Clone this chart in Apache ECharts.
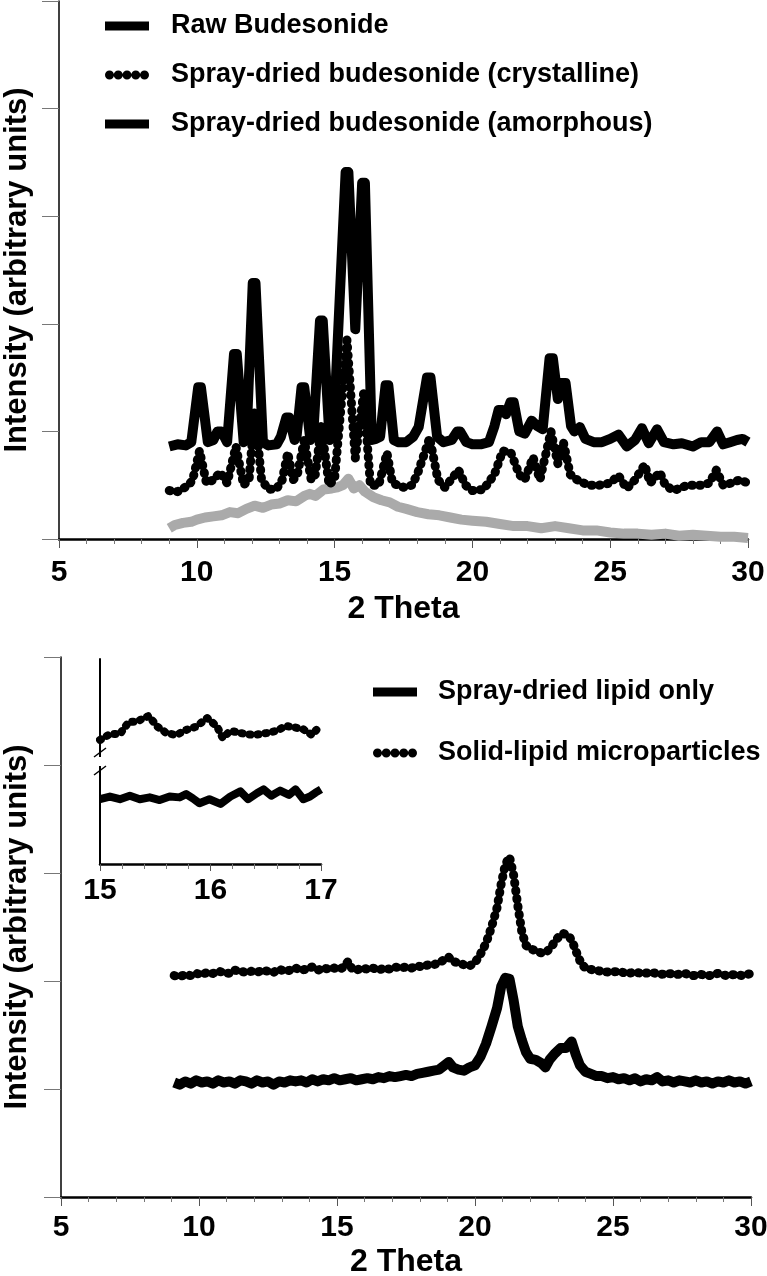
<!DOCTYPE html>
<html>
<head>
<meta charset="utf-8">
<script src="https://cdn.jsdelivr.net/npm/echarts@6/dist/echarts.min.js"></script>
<style>
  html, body { margin: 0; padding: 0; background: #fff; }
  #chart { width: 767px; height: 1276px; }
</style>
</head>
<body>
<div id="chart"></div>
<script>
// ---- top panel: budesonide powders, [2 theta, intensity] ----
var rawBudesonide = [
  [9.0,0.86],[9.3,0.88],[9.6,0.87],[9.8,0.9],[10.05,1.41],[10.15,1.41],[10.4,0.9],[10.6,0.92],[10.75,1.0],
  [10.9,1.0],[11.1,0.9],[11.35,1.72],[11.45,1.72],[11.7,0.9],[11.8,0.92],[12.03,2.38],[12.13,2.38],
  [12.4,0.9],[12.6,0.87],[12.9,0.88],[13.05,0.95],[13.25,1.13],[13.35,1.13],[13.55,0.92],[13.62,0.95],
  [13.8,1.41],[13.9,1.41],[14.12,0.92],[14.22,0.95],[14.47,2.03],[14.57,2.03],[14.82,0.92],[14.95,0.95],
  [15.4,3.41],[15.5,3.41],[15.75,1.95],[16.0,3.31],[16.1,3.31],[16.35,0.92],[16.5,0.93],[16.65,0.95],
  [16.85,1.43],[16.95,1.43],[17.15,0.92],[17.3,0.9],[17.6,0.9],[17.85,0.95],[18.05,1.04],[18.35,1.5],
  [18.48,1.5],[18.72,0.95],[18.95,0.9],[19.25,0.92],[19.45,1.0],[19.55,1.0],[19.78,0.9],[20.0,0.88],
  [20.3,0.88],[20.6,0.9],[20.8,1.05],[20.95,1.2],[21.1,1.2],[21.22,1.16],[21.38,1.27],[21.5,1.27],
  [21.7,1.0],[21.9,0.98],[22.15,1.1],[22.35,1.05],[22.55,1.02],[22.8,1.68],[22.92,1.68],[23.1,1.3],
  [23.22,1.45],[23.38,1.45],[23.58,1.05],[23.7,1.0],[23.9,1.04],[24.1,0.93],[24.4,0.9],[24.7,0.9],
  [25.0,0.93],[25.3,0.97],[25.6,0.86],[25.9,0.92],[26.15,1.03],[26.4,0.89],[26.7,1.02],[26.95,0.9],
  [27.3,0.88],[27.6,0.89],[28.0,0.86],[28.3,0.9],[28.6,0.9],[28.88,1.0],[29.1,0.88],[29.35,0.9],
  [29.6,0.92],[29.8,0.93],[30.0,0.9]
];
var crystalline = [
  [9.0,0.45],[9.3,0.44],[9.5,0.47],[9.7,0.5],[9.85,0.55],[10.1,0.82],[10.35,0.52],[10.6,0.55],[10.85,0.62],
  [11.1,0.52],[11.42,0.86],[11.7,0.5],[11.9,0.56],[12.1,1.2],[12.35,0.55],[12.6,0.46],[12.9,0.47],
  [13.1,0.55],[13.3,0.8],[13.5,0.55],[13.65,0.6],[13.9,0.92],[14.15,0.55],[14.3,0.6],[14.52,1.05],
  [14.8,0.5],[15.0,0.56],[15.45,1.85],[15.75,0.75],[16.05,1.35],[16.3,0.5],[16.6,0.5],[16.9,0.8],
  [17.1,0.52],[17.5,0.48],[17.8,0.5],[18.0,0.6],[18.45,0.94],[18.75,0.55],[19.0,0.48],[19.5,0.64],
  [19.75,0.5],[20.0,0.45],[20.4,0.46],[20.8,0.6],[21.1,0.82],[21.4,0.8],[21.7,0.6],[21.9,0.55],
  [22.2,0.76],[22.45,0.55],[22.85,1.0],[23.1,0.7],[23.3,0.9],[23.55,0.6],[23.8,0.55],[24.2,0.5],
  [24.6,0.5],[25.0,0.52],[25.3,0.59],[25.6,0.47],[25.9,0.55],[26.25,0.69],[26.45,0.52],[26.8,0.62],
  [27.0,0.5],[27.3,0.45],[27.8,0.5],[28.3,0.5],[28.6,0.52],[28.85,0.64],[29.1,0.5],[29.4,0.52],
  [29.7,0.55],[30.0,0.52]
];
var amorphous = [
  [9.0,0.1],[9.2,0.13],[9.5,0.15],[9.8,0.16],[10.0,0.18],[10.3,0.2],[10.6,0.21],[10.9,0.22],[11.2,0.25],
  [11.5,0.24],[11.8,0.28],[12.1,0.31],[12.4,0.29],[12.7,0.32],[13.0,0.33],[13.3,0.36],[13.6,0.35],
  [13.9,0.4],[14.1,0.42],[14.3,0.4],[14.6,0.46],[14.9,0.47],[15.1,0.48],[15.3,0.5],[15.5,0.56],
  [15.7,0.47],[15.9,0.5],[16.1,0.44],[16.4,0.39],[16.7,0.36],[17.0,0.34],[17.3,0.3],[17.6,0.28],
  [18.0,0.25],[18.4,0.23],[18.8,0.22],[19.2,0.2],[19.6,0.18],[20.0,0.17],[20.5,0.16],[21.0,0.14],
  [21.5,0.12],[22.0,0.12],[22.5,0.1],[23.0,0.12],[23.5,0.1],[24.0,0.08],[24.5,0.08],[25.0,0.06],
  [25.5,0.05],[26.0,0.05],[26.5,0.04],[27.0,0.05],[27.5,0.03],[28.0,0.04],[28.5,0.03],[29.0,0.02],
  [29.5,0.02],[30.0,0.01]
];

// ---- bottom panel: lipid samples ----
var lipidOnly = [
  [9.1,1.06],[9.3,1.04],[9.5,1.07],[9.7,1.05],[9.9,1.08],[10.1,1.06],[10.3,1.07],[10.5,1.05],[10.7,1.08],
  [10.9,1.06],[11.1,1.07],[11.3,1.05],[11.5,1.08],[11.7,1.07],[11.9,1.05],[12.1,1.08],[12.3,1.06],
  [12.5,1.07],[12.7,1.04],[12.9,1.07],[13.1,1.06],[13.3,1.08],[13.5,1.07],[13.7,1.08],[13.9,1.06],
  [14.1,1.09],[14.3,1.07],[14.5,1.09],[14.7,1.08],[14.9,1.1],[15.1,1.08],[15.3,1.09],[15.5,1.1],
  [15.7,1.08],[15.9,1.09],[16.1,1.1],[16.3,1.09],[16.5,1.11],[16.7,1.1],[16.9,1.12],[17.1,1.11],
  [17.3,1.12],[17.5,1.13],[17.7,1.12],[17.9,1.14],[18.1,1.15],[18.3,1.16],[18.5,1.17],[18.7,1.18],
  [18.9,1.22],[19.05,1.25],[19.2,1.2],[19.4,1.18],[19.6,1.17],[19.8,1.2],[20.0,1.22],[20.2,1.3],
  [20.4,1.42],[20.6,1.58],[20.8,1.75],[20.95,1.95],[21.1,2.03],[21.25,2.02],[21.4,1.82],[21.55,1.58],
  [21.7,1.45],[21.85,1.34],[22.0,1.28],[22.2,1.27],[22.4,1.24],[22.55,1.2],[22.7,1.27],[22.9,1.33],
  [23.1,1.38],[23.3,1.38],[23.5,1.44],[23.65,1.32],[23.8,1.22],[24.0,1.16],[24.2,1.14],[24.4,1.12],
  [24.6,1.12],[24.8,1.1],[25.0,1.11],[25.2,1.09],[25.4,1.1],[25.6,1.08],[25.8,1.1],[26.0,1.07],
  [26.2,1.09],[26.4,1.08],[26.6,1.11],[26.8,1.07],[27.0,1.08],[27.2,1.06],[27.4,1.08],[27.6,1.07],
  [27.8,1.06],[28.0,1.08],[28.2,1.06],[28.4,1.07],[28.6,1.05],[28.8,1.07],[29.0,1.06],[29.2,1.08],
  [29.4,1.06],[29.6,1.07],[29.8,1.05],[30.0,1.07]
];
var lipidParticles = [
  [9.1,2.05],[9.3,2.04],[9.5,2.06],[9.7,2.05],[9.9,2.07],[10.1,2.06],[10.3,2.08],[10.5,2.07],[10.7,2.09],
  [10.9,2.08],[11.1,2.07],[11.3,2.1],[11.5,2.09],[11.7,2.08],[11.9,2.09],[12.1,2.08],[12.3,2.1],
  [12.5,2.09],[12.7,2.08],[12.9,2.11],[13.1,2.09],[13.3,2.1],[13.5,2.12],[13.7,2.1],[13.9,2.11],
  [14.1,2.13],[14.3,2.1],[14.5,2.12],[14.7,2.11],[14.9,2.12],[15.1,2.11],[15.25,2.13],[15.4,2.18],
  [15.55,2.11],[15.7,2.1],[15.9,2.12],[16.1,2.11],[16.3,2.12],[16.5,2.1],[16.7,2.12],[16.9,2.11],
  [17.1,2.13],[17.3,2.12],[17.5,2.13],[17.7,2.12],[17.9,2.14],[18.1,2.13],[18.3,2.15],[18.5,2.15],
  [18.7,2.17],[18.9,2.2],[19.05,2.22],[19.2,2.18],[19.4,2.17],[19.6,2.15],[19.8,2.14],[20.0,2.17],
  [20.2,2.25],[20.4,2.35],[20.6,2.5],[20.8,2.68],[20.95,2.9],[21.1,3.08],[21.25,3.15],[21.4,2.98],
  [21.55,2.7],[21.7,2.45],[21.85,2.33],[22.0,2.3],[22.2,2.28],[22.4,2.26],[22.6,2.27],[22.8,2.33],
  [23.0,2.4],[23.2,2.44],[23.4,2.42],[23.55,2.35],[23.7,2.25],[23.85,2.16],[24.0,2.12],[24.3,2.1],
  [24.6,2.09],[24.9,2.08],[25.2,2.09],[25.5,2.07],[25.8,2.08],[26.1,2.07],[26.4,2.08],[26.7,2.06],
  [27.0,2.07],[27.3,2.06],[27.6,2.07],[27.9,2.05],[28.2,2.06],[28.5,2.05],[28.8,2.07],[29.1,2.05],
  [29.4,2.06],[29.7,2.05],[30.0,2.07]
];

// ---- inset: 15-17 degrees zoom ----
var insetParticles = [
  [15.0,6.05],[15.09,6.34],[15.18,6.34],[15.26,6.93],[15.33,6.94],[15.44,7.22],[15.52,6.7],[15.6,6.39],
  [15.69,6.29],[15.78,6.54],[15.87,6.7],[15.97,7.12],[16.06,6.7],[16.11,6.15],[16.18,6.5],[16.27,6.39],
  [16.39,6.29],[16.51,6.39],[16.6,6.5],[16.68,6.73],[16.75,6.68],[16.84,6.57],[16.92,6.29],[16.97,6.62],
  [17.0,6.57]
];
var insetLipid = [
  [15.0,3.16],[15.09,3.29],[15.18,3.16],[15.27,3.33],[15.36,3.16],[15.45,3.25],[15.54,3.12],[15.63,3.29],
  [15.72,3.25],[15.78,3.41],[15.84,3.2],[15.9,2.96],[15.99,3.16],[16.09,2.93],[16.18,3.29],[16.27,3.54],
  [16.34,3.16],[16.42,3.45],[16.48,3.64],[16.55,3.33],[16.63,3.58],[16.71,3.37],[16.77,3.64],[16.84,3.16],
  [16.9,3.29],[16.95,3.48],[17.0,3.64]
];

var topLegend = ['Raw Budesonide', 'Spray-dried budesonide (crystalline)', 'Spray-dried budesonide (amorphous)'];
var bottomLegend = ['Spray-dried lipid only', 'Solid-lipid microparticles'];

var FONT = '"Liberation Sans", Arial, Helvetica, sans-serif';

// five round dots for the dotted legend swatch
function dotsIcon() {
  var p = 'path://';
  for (var i = 0; i < 5; i++) {
    var cx = 4.5 + i * 8.75;
    p += 'M' + (cx - 4.5) + ',4.5a4.5,4.5 0 1,0 9,0a4.5,4.5 0 1,0 -9,0Z';
  }
  return p;
}

function xAxisOf(grid, min, max, margin, name, gap) {
  return {
    gridIndex: grid, type: 'value', min: min, max: max, interval: grid === 2 ? 1 : 5,
    axisLine: { show: true, onZero: false, lineStyle: { color: '#000', width: 2.5 } },
    axisTick: { show: true, length: grid === 2 ? 7 : 9, lineStyle: { color: '#555', width: 1 } },
    minorTick: { show: true, splitNumber: 5, length: 5, lineStyle: { color: '#777', width: 1 } },
    splitLine: { show: false },
    axisLabel: { fontSize: 30, fontWeight: 'bold', color: '#000', fontFamily: FONT, margin: margin },
    name: name, nameLocation: 'middle', nameGap: gap, nameMoveOverlap: false,
    nameTextStyle: { fontSize: 32, fontWeight: 'bold', color: '#000', fontFamily: FONT }
  };
}

function yAxisOf(grid) {
  var main = grid !== 2;
  return {
    gridIndex: grid, type: 'value', min: 0, max: main ? 5 : 10, interval: main ? 1 : 5,
    axisLine: { show: true, onZero: false, lineStyle: { color: '#000', width: main ? 1.5 : 2 } },
    axisTick: { show: main, length: 17, lineStyle: { color: '#777', width: 1 } },
    axisLabel: { show: false },
    splitLine: { show: false },
    name: main ? 'Intensity (arbitrary units)' : '',
    nameLocation: 'middle', nameRotate: 90, nameGap: grid === 0 ? 26 : 28, nameMoveOverlap: false,
    nameTextStyle: { fontSize: 31, fontWeight: 'bold', color: '#000', fontFamily: FONT }
  };
}

function line(name, data, grid, opts) {
  return {
    name: name, type: 'line', xAxisIndex: grid, yAxisIndex: grid,
    data: data, showSymbol: false, symbol: 'none', smooth: false, silent: true,
    z: opts.z || 2,
    itemStyle: { color: opts.color },
    lineStyle: opts.dotted
      ? { color: opts.color, width: opts.width, type: [1, 7], cap: 'round', join: 'round' }
      : { color: opts.color, width: opts.width, join: 'round' }
  };
}

var legendText = { fontSize: 27, fontWeight: 'bold', color: '#000', fontFamily: FONT, lineHeight: 30 };

var option = {
  animation: false,
  backgroundColor: '#fff',
  grid: [
    { left: 59, right: 19, top: 1, height: 538, outerBoundsMode: 'none' },
    { left: 61, right: 16, top: 657, height: 540, outerBoundsMode: 'none' },
    { left: 100, width: 221, top: 659, height: 205, outerBoundsMode: 'none' }
  ],
  xAxis: [
    xAxisOf(0, 5, 30, 19, '2 Theta', 54),
    xAxisOf(1, 5, 30, 16, '2 Theta', 49),
    xAxisOf(2, 15, 17, 12, '', 0)
  ],
  yAxis: [yAxisOf(0), yAxisOf(1), yAxisOf(2)],
  legend: [
    {
      orient: 'vertical', left: 100, top: 6, itemWidth: 44, itemHeight: 9, itemGap: 19,
      selectedMode: false, textStyle: Object.assign({ padding: [0, 0, 0, 17] }, legendText),
      data: [
        { name: topLegend[0], icon: 'rect' },
        { name: topLegend[1], icon: dotsIcon() },
        { name: topLegend[2], icon: 'rect', itemStyle: { color: '#000' } }
      ]
    },
    {
      orient: 'vertical', left: 368, top: 672, itemWidth: 44, itemHeight: 9, itemGap: 31,
      selectedMode: false, textStyle: Object.assign({ padding: [0, 0, 0, 16] }, legendText),
      data: [
        { name: bottomLegend[0], icon: 'rect' },
        { name: bottomLegend[1], icon: dotsIcon() }
      ]
    }
  ],
  series: [
    line(topLegend[2], amorphous, 0, { color: '#aaaaaa', width: 10, z: 2 }),
    line(topLegend[0], rawBudesonide, 0, { color: '#000', width: 10, z: 3 }),
    line(topLegend[1], crystalline, 0, { color: '#000', width: 9, dotted: true, z: 4 }),
    line(bottomLegend[0], lipidOnly, 1, { color: '#000', width: 10 }),
    line(bottomLegend[1], lipidParticles, 1, { color: '#000', width: 9, dotted: true }),
    line('inset lipid', insetLipid, 2, { color: '#000', width: 8 }),
    line('inset particles', insetParticles, 2, { color: '#000', width: 8, dotted: true })
  ],
  graphic: [
    // axis break on the inset y axis
    { type: 'rect', z: 100, shape: { x: 96, y: 757, width: 9, height: 9 }, style: { fill: '#fff' } },
    { type: 'line', z: 101, shape: { x1: 94, y1: 757, x2: 106, y2: 748 }, style: { stroke: '#000', lineWidth: 1.5 } },
    { type: 'line', z: 101, shape: { x1: 94, y1: 775, x2: 106, y2: 766 }, style: { stroke: '#000', lineWidth: 1.5 } }
  ]
};

var myChart = echarts.init(document.getElementById('chart'));
myChart.setOption(option);
</script>
</body>
</html>
